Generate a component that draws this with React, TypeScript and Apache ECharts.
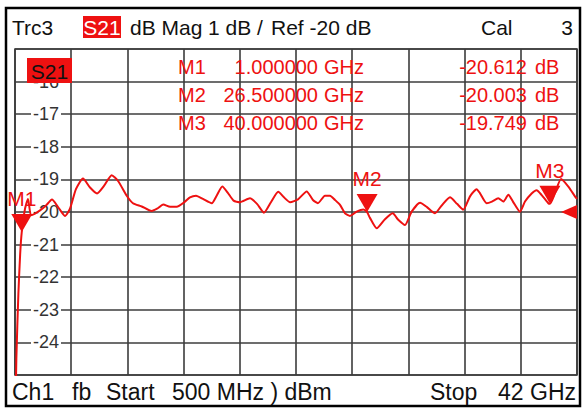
import React, { useEffect, useRef } from "react";
import * as echarts from "echarts";

// ---- data ----
const freqGHz = [0.5, 0.6, 0.75, 0.88, 1.0, 1.24, 1.46, 1.68, 1.98, 2.35, 2.79, 3.23, 3.68, 4.19, 4.56, 5.0, 5.52, 6.04, 6.56, 7.07, 7.64, 8.11, 8.75, 9.21, 9.86, 10.59, 10.99, 11.45, 11.95, 12.44, 13.06, 13.42, 13.87, 14.38, 15.03, 15.39, 15.81, 16.23, 16.64, 17.11, 17.85, 18.37, 18.89, 19.4, 19.94, 20.36, 20.81, 21.4, 22.04, 22.5, 22.87, 23.39, 23.76, 24.13, 24.5, 24.87, 25.24, 25.73, 26.22, 26.5, 26.71, 27.21, 27.82, 28.39, 28.8, 29.3, 29.79, 30.41, 30.92, 31.51, 32.01, 32.62, 33.14, 33.6, 34.1, 34.59, 34.83, 35.33, 35.72, 36.19, 36.56, 36.93, 37.27, 37.79, 38.16, 38.65, 39.02, 39.39, 39.88, 40.0, 40.37, 40.82, 41.36, 41.85, 42.0];
const s21dB = [-27, -24.5, -22.5, -21.3, -20.612, -19.9, -19.6, -20.1, -20.05, -19.95, -19.8, -19.62, -19.85, -20.12, -19.9, -19.3, -18.97, -19.25, -19.43, -19.2, -18.87, -19.05, -19.5, -19.73, -19.83, -19.97, -19.9, -19.77, -19.84, -19.84, -19.68, -19.55, -19.5, -19.6, -19.73, -19.5, -19.22, -19.42, -19.65, -19.7, -19.58, -19.75, -20.02, -19.7, -19.38, -19.55, -19.7, -19.61, -19.37, -19.63, -19.73, -19.5, -19.5, -19.63, -19.78, -20.04, -20.12, -19.99, -19.92, -20.003, -20.18, -20.5, -20.22, -20.04, -20.24, -20.4, -19.99, -19.72, -19.85, -20.04, -19.8, -19.55, -19.75, -19.93, -19.52, -19.3, -19.42, -19.73, -19.68, -19.58, -19.68, -19.47, -19.68, -19.99, -19.68, -19.43, -19.33, -19.48, -19.73, -19.749, -19.43, -18.99, -19.22, -19.52, -19.6];

const markerNames = ["M1", "M2", "M3"];
const markerFreqGHz = [1.0, 26.5, 40.0];
const markerValdB = [-20.612, -20.003, -19.749];

const refLeveldB = -20;
const startGHz = 0.5;
const stopGHz = 42;
const yMin = -25;
const yMax = -15;

const RED = "#ee1111";
const GRID = "#3c3c3c";
const FONT = "Liberation Sans, Arial, sans-serif";

export default function App() {
  const ref = useRef<HTMLDivElement>(null);

  useEffect(() => {
    if (!ref.current) return;
    const chart = echarts.init(ref.current, null, { renderer: "svg" });

    const txt = (text: string, x: number, y: number, opts: any = {}) => ({
      type: "text",
      x,
      y,
      z: 100,
      style: {
        text,
        fill: opts.fill || "#111",
        fontSize: opts.fontSize || 20,
        fontFamily: FONT,
        align: opts.align || "left",
        verticalAlign: "middle",
      },
    });

    const rowsY = [67, 95, 123];
    const tableGraphics: any[] = [];
    markerNames.forEach((n, i) => {
      const y = rowsY[i];
      tableGraphics.push(txt(n, 178, y, { fill: RED }));
      tableGraphics.push(txt(markerFreqGHz[i].toFixed(6), 318, y, { fill: RED, align: "right" }));
      tableGraphics.push(txt("GHz", 324, y, { fill: RED }));
      tableGraphics.push(txt(markerValdB[i].toFixed(3), 527, y, { fill: RED, align: "right" }));
      tableGraphics.push(txt("dB", 535, y, { fill: RED }));
    });

    const option: any = {
      animation: false,
      backgroundColor: "#fff",
      grid: {
        left: 15,
        right: 6,
        top: 49,
        bottom: 35,
        show: true,
        borderColor: GRID,
        borderWidth: 1.6,
        containLabel: false,
      },
      xAxis: [
        {
          type: "value",
          min: startGHz,
          max: stopGHz,
          show: false,
          splitLine: { show: false },
        },
        {
          type: "value",
          min: 0,
          max: 10,
          interval: 1,
          axisLabel: { show: false },
          axisTick: { show: false },
          axisLine: { show: false },
          splitLine: { show: true, lineStyle: { color: GRID, width: 1.6 } },
        },
      ],
      yAxis: {
        type: "value",
        min: yMin,
        max: yMax,
        interval: 1,
        axisLine: { show: false },
        axisTick: { show: false },
        splitLine: { show: true, lineStyle: { color: GRID, width: 1.6 } },
        axisLabel: {
          inside: true,
          margin: 16,
          color: "#333",
          fontSize: 18,
          fontFamily: FONT,
          backgroundColor: "#fff",
          padding: [0, 2],
          formatter: (v: number) => (v > yMin && v < yMax ? String(v) : ""),
        },
      },
      series: [
        {
          type: "line",
          xAxisIndex: 0,
          data: freqGHz.map((f, i) => [f, s21dB[i]]),
          showSymbol: false,
          smooth: 0.2,
          clip: true,
          lineStyle: { color: RED, width: 2 },
          z: 3,
        },
        {
          type: "scatter",
          xAxisIndex: 0,
          data: markerFreqGHz.map((f, i) => ({ value: [f, markerValdB[i]], name: markerNames[i] })),
          symbol: "path://M0,0L20,0L10,18Z",
          symbolSize: [21, 18],
          symbolOffset: [0, -9],
          itemStyle: { color: RED, opacity: 1 },
          clip: false,
          label: {
            show: true,
            position: "top",
            distance: 5,
            formatter: (p: any) => p.name,
            color: RED,
            fontSize: 21,
            fontFamily: FONT,
          },
          z: 5,
        },
        {
          type: "scatter",
          xAxisIndex: 0,
          data: [[stopGHz, refLeveldB]],
          symbol: "path://M0,7L16,0L16,14Z",
          symbolSize: [16, 14],
          symbolOffset: [-8, 0],
          itemStyle: { color: RED, opacity: 1 },
          clip: false,
          z: 5,
        },
      ],
      graphic: [
        {
          type: "rect",
          z: 90,
          shape: { x: 6, y: 8, width: 574, height: 398 },
          style: { fill: "none", stroke: "#000", lineWidth: 2.5 },
        },
        // header
        txt("Trc3", 12, 27, { fontSize: 21 }),
        {
          type: "rect",
          z: 95,
          shape: { x: 83, y: 16, width: 38, height: 22 },
          style: { fill: RED },
        },
        txt("S21", 102, 27, { fill: "#fff", align: "center", fontSize: 21 }),
        txt("dB Mag", 130, 27, { fontSize: 21 }),
        txt("1 dB /", 208, 27, { fontSize: 21 }),
        txt("Ref -20 dB", 271, 27, { fontSize: 21 }),
        txt("Cal", 481, 27, { fontSize: 21 }),
        txt("3", 573, 27, { align: "right", fontSize: 21 }),
        // S21 trace label inside grid
        {
          type: "rect",
          z: 95,
          shape: { x: 27, y: 58, width: 45, height: 25 },
          style: { fill: RED },
        },
        txt("S21", 49.5, 71, { fill: "#111", align: "center", fontSize: 21 }),
        ...tableGraphics,
        // footer
        txt("Ch1", 12, 392, { fontSize: 23 }),
        txt("fb", 72, 392, { fontSize: 23 }),
        txt("Start", 106, 392, { fontSize: 23 }),
        txt("500 MHz ) dBm", 172, 392, { fontSize: 23 }),
        txt("Stop", 430, 392, { fontSize: 23 }),
        txt("42 GHz", 576, 392, { align: "right", fontSize: 23 }),
      ],
    };

    chart.setOption(option);
    return () => chart.dispose();
  }, []);

  return (
    <div
      ref={ref}
      style={{ position: "fixed", left: 0, top: 0, width: 583, height: 410, background: "#fff" }}
    />
  );
}
